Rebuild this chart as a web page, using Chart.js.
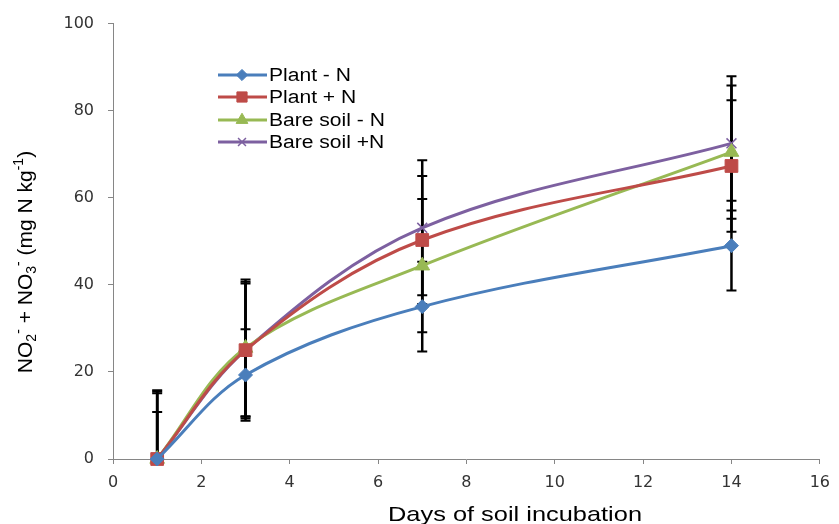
<!DOCTYPE html>
<html>
<head>
<meta charset="utf-8">
<script src="https://cdn.jsdelivr.net/npm/chart.js@4.4.1/dist/chart.umd.min.js"></script>
<style>
html, body { margin: 0; padding: 0; background: #fff; }
#wrap { width: 839px; height: 524px; }
</style>
</head>
<body>
<div id="wrap"><canvas id="chart"></canvas></div>
<script>
var DAYS = [1, 3, 7, 14];
var PLANT_MINUS_N = [0, 19.3, 35, 49];
var PLANT_PLUS_N = [0, 25, 50.3, 67.3];
var BARE_MINUS_N = [0, 25.5, 44.4, 70.5];
var BARE_PLUS_N = [0, 25, 53.1, 72.5];
var ERR_PLANT_MINUS_N = [10.8, 10.5, 10.3, 10.3];
var ERR_PLANT_PLUS_N = [15.5, 15.7, 14.7, 15.1];
var ERR_BARE_MINUS_N = [15.1, 15.7, 15.3, 15.3];
var ERR_BARE_PLUS_N = [15.8, 15.3, 15.5, 15.4];
var SERIES_NAMES = ['Plant - N', 'Plant + N', 'Bare soil - N', 'Bare soil +N'];
var COLORS = ['#4a7ebb', '#be4b48', '#98b954', '#7d60a0'];
var SHAPES = ['rectRot', 'rect', 'triangle', 'crossRot'];
var SIZES = [7, 9, 8.5, 7];
var X_TITLE = 'Days of soil incubation';

function points(ys) {
  return DAYS.map(function(d, i) { return { x: d, y: ys[i] }; });
}

function makeSet(i, ys, errs) {
  return {
    label: SERIES_NAMES[i],
    data: points(ys),
    errors: errs,
    borderColor: COLORS[i],
    backgroundColor: COLORS[i],
    borderWidth: 3,
    pointStyle: SHAPES[i],
    pointRadius: SIZES[i],
    pointBorderWidth: SHAPES[i] == 'crossRot' ? 1.5 : 1,
    pointBorderColor: COLORS[i],
    pointBackgroundColor: COLORS[i],
    tension: 0.35,
    clip: false
  };
}

// black error bars, drawn under the lines
var errorBars = {
  id: 'errorBars',
  beforeDatasetsDraw: function(chart) {
    var ctx = chart.ctx, ys = chart.scales.y, a = chart.chartArea;
    ctx.save();
    ctx.beginPath();
    ctx.rect(a.left, a.top - 10, a.right - a.left, a.bottom - a.top + 10);
    ctx.clip();
    ctx.strokeStyle = '#000';
    chart.data.datasets.forEach(function(ds, i) {
      chart.getDatasetMeta(i).data.forEach(function(pt, j) {
        var v = ds.data[j].y, e = ds.errors[j];
        var top = ys.getPixelForValue(v + e), bot = ys.getPixelForValue(v - e);
        ctx.lineWidth = 2.5;
        ctx.beginPath();
        ctx.moveTo(pt.x, top);
        ctx.lineTo(pt.x, bot);
        ctx.stroke();
        ctx.lineWidth = 2;
        ctx.beginPath();
        ctx.moveTo(pt.x - 5, top); ctx.lineTo(pt.x + 5, top);
        ctx.moveTo(pt.x - 5, bot); ctx.lineTo(pt.x + 5, bot);
        ctx.stroke();
      });
    });
    ctx.restore();
  }
};

var extras = {
  id: 'extras',
  afterDraw: function(chart) {
    var ctx = chart.ctx;
    ctx.save();
    // legend
    ctx.font = '18px "Liberation Sans", Arial, sans-serif';
    ctx.textBaseline = 'middle';
    var rows = [75, 97, 120, 142];
    chart.data.datasets.forEach(function(ds, i) {
      var y = rows[i];
      ctx.strokeStyle = COLORS[i];
      ctx.lineWidth = 3;
      ctx.beginPath(); ctx.moveTo(218, y); ctx.lineTo(267, y); ctx.stroke();
      ctx.fillStyle = COLORS[i];
      ctx.lineWidth = SHAPES[i] == 'crossRot' ? 1.5 : 1;
      Chart.helpers.drawPoint(ctx, { pointStyle: SHAPES[i], radius: SIZES[i] * 0.8, borderWidth: 1 }, 242, y);
      ctx.save();
      ctx.translate(269, y + 1);
      ctx.scale(1.17, 1);
      ctx.fillStyle = '#000';
      ctx.fillText(ds.label, 0, 0);
      ctx.restore();
    });
    ctx.fillStyle = '#000';
    // x title
    ctx.font = '21px "Liberation Sans", Arial, sans-serif';
    ctx.textBaseline = 'alphabetic';
    var w = ctx.measureText(X_TITLE).width;
    ctx.save();
    ctx.translate(515, 521);
    ctx.scale(254 / w, 1);
    ctx.textAlign = 'center';
    ctx.fillText(X_TITLE, 0, 0);
    ctx.restore();
    // y title with sub/superscripts
    var size = 21;
    var parts = [
      ['NO', 0], ['2', 1], ['-', 2], [' + NO', 0], ['3', 1], ['-', 2],
      [' (mg N kg', 0], ['-1', 2], [')', 0]
    ];
    function setFont(k) {
      ctx.font = (k ? Math.round(size * 0.65) : size) + 'px "Liberation Sans", Arial, sans-serif';
    }
    var total = 0;
    parts.forEach(function(p) { setFont(p[1]); total += ctx.measureText(p[0]).width; });
    ctx.save();
    ctx.translate(24, 262);
    ctx.rotate(-Math.PI / 2);
    ctx.textAlign = 'left';
    var x = -total / 2;
    parts.forEach(function(p) {
      setFont(p[1]);
      var dy = 0.36 * size + (p[1] == 1 ? 0.22 * size : p[1] == 2 ? -0.42 * size : 0);
      ctx.fillText(p[0], x, dy);
      x += ctx.measureText(p[0]).width;
    });
    ctx.restore();
    ctx.restore();
  }
};

var tickFont = { family: '"DejaVu Sans", Verdana, sans-serif', size: 16 };

new Chart(document.getElementById('chart'), {
  type: 'line',
  data: {
    datasets: [
      makeSet(0, PLANT_MINUS_N, ERR_PLANT_MINUS_N),
      makeSet(1, PLANT_PLUS_N, ERR_PLANT_PLUS_N),
      makeSet(2, BARE_MINUS_N, ERR_BARE_MINUS_N),
      makeSet(3, BARE_PLUS_N, ERR_BARE_PLUS_N)
    ]
  },
  options: {
    responsive: true,
    maintainAspectRatio: false,
    animation: false,
    layout: { padding: { top: 22, right: 13, left: 0, bottom: 0 } },
    plugins: { legend: { display: false }, tooltip: { enabled: false } },
    scales: {
      x: {
        type: 'linear',
        min: 0,
        max: 16,
        ticks: { stepSize: 2, color: '#333', font: tickFont, padding: 9, maxRotation: 0 },
        grid: { drawOnChartArea: false, tickLength: 5, color: '#868686' },
        border: { color: '#868686' },
        afterFit: function(s) { s.height = 65; }
      },
      y: {
        min: 0,
        max: 100,
        ticks: { stepSize: 20, color: '#333', font: tickFont, padding: 14 },
        grid: { drawOnChartArea: false, tickLength: 5, color: '#868686' },
        border: { color: '#868686' },
        afterFit: function(s) { s.width = 113; }
      }
    }
  },
  plugins: [errorBars, extras]
});
</script>
</body>
</html>
